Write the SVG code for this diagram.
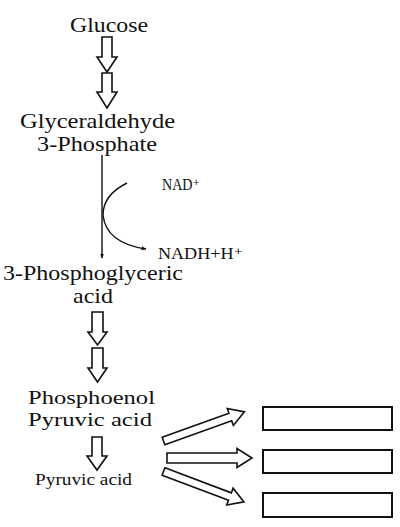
<svg xmlns="http://www.w3.org/2000/svg" width="400" height="527" viewBox="0 0 400 527">
<defs>
<style>
text{font-family:'Liberation Serif','Times New Roman',Times,'DejaVu Serif',serif;fill:#111;}
.big{font-size:22px;}
.mid{font-size:19px;}
.sm{font-size:16px;}
.blk{fill:#fff;stroke:#111;stroke-width:1.6;stroke-linejoin:miter;}
.ln{fill:none;stroke:#111;stroke-width:1.4;}
.box{fill:#fff;stroke:#111;stroke-width:2;}
</style>
<marker id="ah" viewBox="0 0 10 10" refX="9" refY="5" markerWidth="5" markerHeight="5" orient="auto" markerUnits="userSpaceOnUse">
<path d="M0,1 L10,5 L0,9 Z" fill="#111"/>
</marker>
</defs>
<rect width="400" height="527" fill="#fff"/>
<g id="glucose"><text class="big" x="70" y="32" textLength="78" lengthAdjust="spacingAndGlyphs">Glucose</text></g>
<g id="g3p"><text class="big" x="20" y="128" textLength="155" lengthAdjust="spacingAndGlyphs">Glyceraldehyde</text><text class="big" x="37" y="151" textLength="120" lengthAdjust="spacingAndGlyphs">3-Phosphate</text></g>
<g id="nad"><text class="sm" x="162" y="190" textLength="38" lengthAdjust="spacingAndGlyphs">NAD⁺</text></g>
<g id="nadh"><text class="sm" x="158" y="259" textLength="85" lengthAdjust="spacingAndGlyphs">NADH+H⁺</text></g>
<g id="pga"><text class="big" x="3" y="280" textLength="180" lengthAdjust="spacingAndGlyphs">3-Phosphoglyceric</text><text class="big" x="73" y="303" textLength="40" lengthAdjust="spacingAndGlyphs">acid</text></g>
<g id="pep"><text class="mid" x="28" y="404" textLength="127" lengthAdjust="spacingAndGlyphs">Phosphoenol</text><text class="mid" x="28" y="426" textLength="124" lengthAdjust="spacingAndGlyphs">Pyruvic acid</text></g>
<g id="pyruvate"><text class="sm" x="35" y="485" textLength="97" lengthAdjust="spacingAndGlyphs">Pyruvic acid</text></g>
<g id="box1"><rect class="box" x="263" y="407" width="129" height="23"/></g>
<g id="box2"><rect class="box" x="263" y="450" width="129" height="23"/></g>
<g id="box3"><rect class="box" x="263" y="493" width="129" height="24"/></g>
<g id="connectors">
<path class="blk" d="M102,37 H112 V57 H117 L107,72 L97,57 H102 Z"/>
<path class="blk" d="M102,73 H112 V92 H117 L107,108 L97,92 H102 Z"/>
<line class="ln" x1="102" y1="155" x2="102" y2="258" marker-end="url(#ah)"/>
<path class="ln" d="M127,183 Q103,195 103,215 Q106,243 146,249" marker-end="url(#ah)"/>
<path class="blk" d="M92,312 H103 V332 H107 L97.5,345 L88,332 H92 Z"/>
<path class="blk" d="M92,348 H103 V368 H107 L97.5,382 L88,368 H92 Z"/>
<path class="blk" d="M92,437 H102 V456 H107 L97,470 L87,456 H92 Z"/>
<path class="blk" transform="translate(163.5,441) rotate(-19.8)" d="M0,-4 H71 V-9 L86,0 L71,9 V4 H0 Z"/>
<path class="blk" transform="translate(167,458)" d="M0,-5 H70 V-9.5 L85,0 L70,9.5 V5 H0 Z"/>
<path class="blk" transform="translate(163.5,471.5) rotate(20.7)" d="M0,-4 H71 V-9 L86,0 L71,9 V4 H0 Z"/>
</g>
</svg>
